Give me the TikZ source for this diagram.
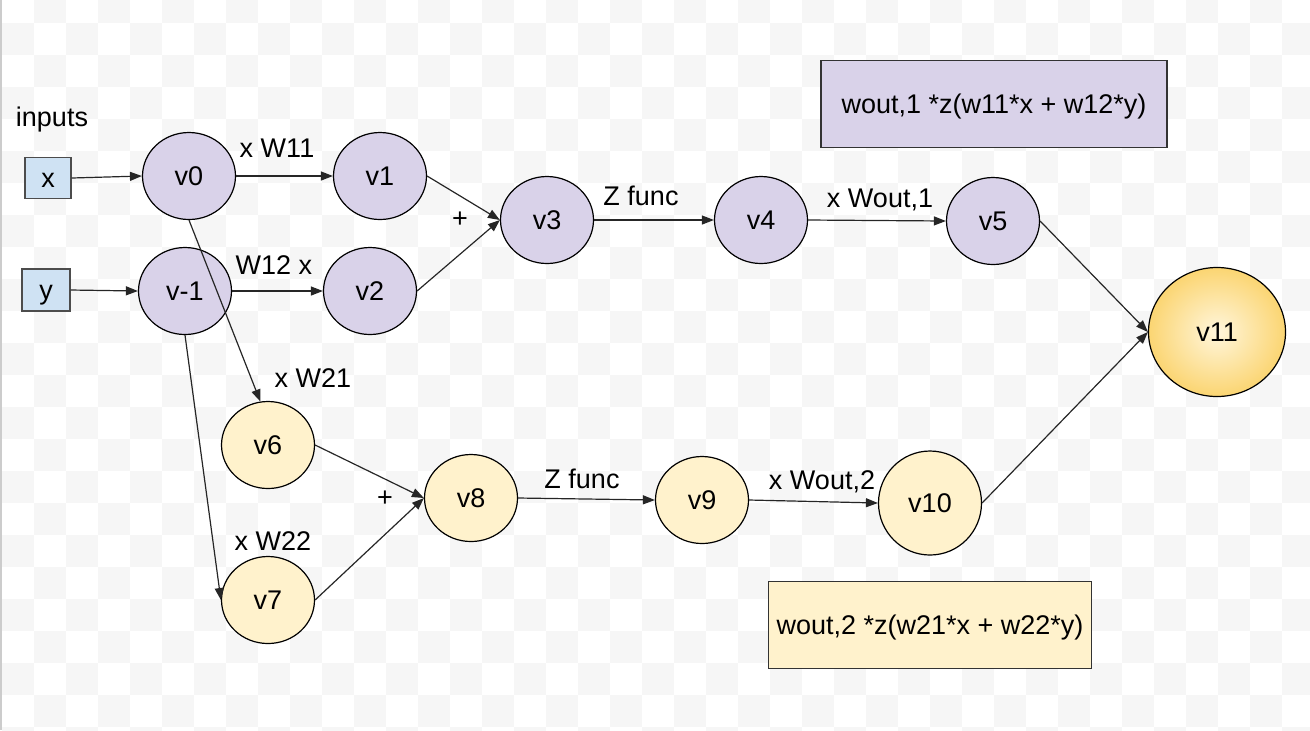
\documentclass[tikz,border=0pt]{standalone}
\usepackage{fontspec}
\setmainfont{Liberation Sans}
\usetikzlibrary{arrows.meta,shapes.geometric}
\definecolor{lavender}{HTML}{D9D2E9}
\definecolor{cream}{HTML}{FFF2CC}
\definecolor{paleblue}{HTML}{CFE2F3}
\definecolor{gold}{HTML}{FBD572}
\definecolor{goldcore}{HTML}{FFF6DC}
\definecolor{checker}{HTML}{F6F6F6}
\definecolor{edgegray}{HTML}{CCCCCC}

\begin{document}
\begin{tikzpicture}[x=0.5pt,y=-0.5pt,
	every node/.style={font=\fontsize{13.5}{16}\selectfont,text height=12.2pt,text depth=2.9pt},
	vert/.style={ellipse,draw=black,line width=0.6pt,inner sep=0pt,minimum width=46.5pt,minimum height=43.5pt},
	upper/.style={vert,fill=lavender},
	lower/.style={vert,fill=cream},
	inbox/.style={rectangle,draw=black!70,line width=0.6pt,fill=paleblue,inner sep=0pt},
	sumbox/.style={rectangle,draw=black!80,line width=0.6pt,inner sep=0pt,minimum height=43.5pt},
	wire/.style={-{Triangle[length=6pt,width=4.5pt]},line width=0.6pt,draw=black!85}]
			\useasboundingbox (0,0) rectangle (1310,730);
			% checkered backdrop
			\begin{scope}
			\clip (0,0) rectangle (1310,730);
			\foreach \i in {0,...,40}
				\foreach \r in {0,...,23}
					{\ifodd\numexpr\i+\r\relax \fill [checker] (2+32*\i,-9+32*\r) rectangle ++(32,32); \fi}
			\fill [edgegray] (0,0) rectangle (2,730);
			\end{scope}
			% inputs
			\node (inputs) at (52,117) {inputs};
			\node [inbox,minimum width=23pt,minimum height=20.5pt] (x) at (48,178) {x};
			\node [inbox,minimum width=24pt,minimum height=21pt] (y) at (46,290) {y};
			% first hidden unit
			\node [upper] (v0) at (189,176) {v0};
			\node [upper] (vm1) at (185,291) {v-1};
			\node [upper] (v1) at (380,176) {v1};
			\node [upper] (v2) at (370,291) {v2};
			\node [upper] (v3) at (547,220) {v3};
			\node [upper] (v4) at (761,220) {v4};
			\node [upper] (v5) at (993,221) {v5};
			% second hidden unit
			\node [lower] (v6) at (268,445) {v6};
			\node [lower] (v7) at (268,600) {v7};
			\node [lower] (v8) at (471,498) {v8};
			\node [lower] (v9) at (702,500) {v9};
			\node [lower,minimum width=51.5pt,minimum height=52pt] (v10) at (930,503) {v10};
			% output
			\node [vert,minimum width=68.5pt,minimum height=64.5pt,inner color=goldcore,outer color=gold] (v11) at (1217,332) {v11};
			% summaries
			\node [sumbox,fill=lavender,minimum width=173pt] (sum1) at (994,104) {wout,1 *z(w11*x + w12*y)};
			\node [sumbox,fill=cream,minimum width=161.5pt] (sum2) at (930,625) {wout,2 *z(w21*x + w22*y)};
			% edge labels
			\node (l01) at (277,148) {x W11};
			\node (l12) at (274,265) {W12 x};
			\node (plus1) at (460,218) {+};
			\node (zf1) at (641,196) {Z func};
			\node (wo1) at (880,198) {x Wout,1};
			\node (l21) at (313,378) {x W21};
			\node (l22) at (273,541) {x W22};
			\node (plus2) at (385,497) {+};
			\node (zf2) at (582,479) {Z func};
			\node (wo2) at (822,480) {x Wout,2};
			% connectors
			\draw [wire] (x.east) -- (v0.west);
			\draw [wire] (y.east) -- (vm1.west);
			\draw [wire] (v0.east) -- (v1.west);
			\draw [wire] (vm1.east) -- (v2.west);
			\draw [wire] (v1.east) -- (v3.west);
			\draw [wire] (v2.east) -- (v3.west);
			\draw [wire] (v3.east) -- (v4.west);
			\draw [wire] (v4.east) -- (v5.west);
			\draw [wire] (v5.east) -- (v11.west);
			\draw [wire] (v0.south) -- (v6.100);
			\draw [wire] (vm1.south) -- (v7.west);
			\draw [wire] (v6.east) -- (v8.west);
			\draw [wire] (v7.east) -- (v8.west);
			\draw [wire] (v8.east) -- (v9.west);
			\draw [wire] (v9.east) -- (v10.west);
			\draw [wire] (v10.east) -- (v11.west);
		\end{tikzpicture}
\end{document}
